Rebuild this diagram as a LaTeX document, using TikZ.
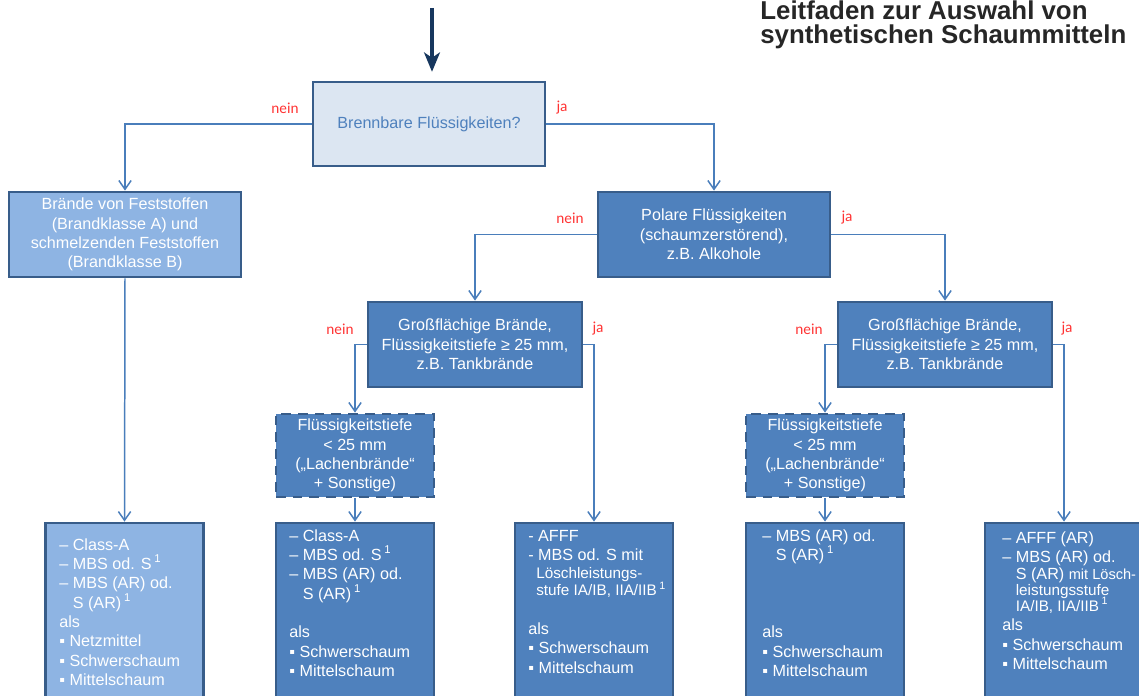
\documentclass[tikz,border=0pt]{standalone}
\usepackage{fontspec}
\setmainfont{Liberation Sans}
\newfontfamily\labelfont{Carlito}
\usetikzlibrary{arrows.meta}

\definecolor{rand}{HTML}{385D8A}
\definecolor{blau}{HTML}{4F81BD}
\definecolor{hellblau}{HTML}{8EB4E3}
\definecolor{frageblau}{HTML}{DCE6F2}
\definecolor{linie}{HTML}{4A7EBB}
\definecolor{dunkel}{HTML}{17375E}
\definecolor{rot}{HTML}{FF3333}
\definecolor{titelgrau}{HTML}{262626}

\newcommand\kleintxt{\fontsize{8.7}{9.9}\selectfont}
\newcommand\einr{\hphantom{– }}
\newcommand\fn{\,\textsuperscript{1}}

\begin{document}
\begin{tikzpicture}[x=0.02cm, y=-0.02cm, font=\fontsize{9.2}{11}\selectfont,
  box/.style={draw=rand, line width=1.6pt, fill=blau, text=white, align=center,
    inner sep=0pt, minimum height=1.7cm},
  lache/.style={box, dash pattern=on 5.5pt off 4pt, minimum width=3.16cm,
    minimum height=1.66cm},
  ergebnis/.style={box, minimum width=3.16cm, minimum height=3.94cm},
  liste/.style={text=white, align=left, anchor=north west, inner sep=0pt},
  pfeil/.style={draw=linie, line width=0.85pt, -{Straight Barb[length=5pt, width=7pt]}},
  einpfeil/.style={draw=dunkel, line width=2.3pt, -{Stealth[length=11pt, width=9pt, inset=3pt]}},
  antwort/.style={text=rot, font=\labelfont\fontsize{8.7}{10}\selectfont},
  titel/.style={text=titelgrau, align=left, inner sep=0pt,
    font=\bfseries\fontsize{14.7}{14}\selectfont}]

  \useasboundingbox (0,0) rectangle (1139,696);

  % Titel (oben angeschnitten)
  \node[titel, anchor=north west] (titel) at (760,0) {Leitfaden zur Auswahl von\\synthetischen Schaummitteln};

  % Einstieg
  \coordinate (start) at (432,8);

  % Fragen
  \node[box, fill=frageblau, text=blau, minimum width=4.64cm, minimum height=1.68cm] (brenn) at (429,124) {Brennbare Flüssigkeiten?};
  \node[box, fill=hellblau, minimum width=4.64cm] (fest) at (125,234.5) {Brände von Feststoffen\\(Brandklasse A) und\\schmelzenden Feststoffen\\(Brandklasse B)};
  \node[box, minimum width=4.64cm] (polar) at (714,234.5) {Polare Flüssigkeiten\\(schaumzerstörend),\\z.B. Alkohole};
  \node[box, minimum width=4.28cm] (gross1) at (475,344.5) {Großflächige Brände,\\Flüssigkeitstiefe ≥ 25 mm,\\z.B. Tankbrände};
  \node[box, minimum width=4.28cm] (gross2) at (945,344.5) {Großflächige Brände,\\Flüssigkeitstiefe ≥ 25 mm,\\z.B. Tankbrände};
  \node[lache] (lache1) at (355,455.5) {Flüssigkeitstiefe\\< 25 mm\\(„Lachenbrände“\\+ Sonstige)};
  \node[lache] (lache2) at (825,455.5) {Flüssigkeitstiefe\\< 25 mm\\(„Lachenbrände“\\+ Sonstige)};

  % Ergebnisse (unten abgeschnitten)
  \node[ergebnis, fill=hellblau] (ra) at (124.5,621.5) {};
  \node[ergebnis] (r1) at (355,621.5) {};
  \node[ergebnis] (r2) at (594,621.5) {};
  \node[ergebnis] (r3) at (825,621.5) {};
  \node[ergebnis] (r4) at (1064,621.5) {};

  \node[liste] (ra-text) at (59,538) {– Class-A\\– MBS od. S\fn\\– MBS (AR) od.\\\einr S (AR)\fn\\als\\▪ Netzmittel\\▪ Schwerschaum\\▪ Mittelschaum};
  \node[liste] (r1-text) at (289,529) {– Class-A\\– MBS od. S\fn\\– MBS (AR) od.\\\einr S (AR)\fn\\~\\als\\▪ Schwerschaum\\▪ Mittelschaum};
  \node[liste] (r2-text) at (528,530) {- AFFF\\- MBS od. S mit\\[-1pt]\hspace*{4.5pt}{\kleintxt Löschleistungs-}\\[-1pt]\hspace*{4.5pt}{\kleintxt stufe IA/IB, IIA/IIB\fn}\\~\\als\\▪ Schwerschaum\\▪ Mittelschaum};
  \node[liste] (r3-text) at (762,529) {– MBS (AR) od.\\\einr S (AR)\fn\\~\\~\\~\\als\\▪ Schwerschaum\\▪ Mittelschaum};
  \node[liste] (r4-text) at (1002,531) {– AFFF (AR)\\– MBS (AR) od.\\[-1pt]\einr S (AR) {\kleintxt\fontsize{8.3}{9.7}\selectfont mit Lösch-}\\[-2pt]\einr{\kleintxt leistungsstufe}\\[-2pt]\einr{\kleintxt IA/IB, IIA/IIB\fn}\\als\\▪ Schwerschaum\\▪ Mittelschaum};

  % Verbindungen
  \draw[einpfeil, shorten >=5pt] (start) -- (start |- brenn.north);
  \draw[pfeil] (brenn.west) -| (fest.north);
  \draw[pfeil] (brenn.east) -| (polar.north);
  \draw[pfeil] (fest.south) -- (ra.north);
  \draw[pfeil] (polar.west) -| (gross1.north);
  \draw[pfeil] (polar.east) -| (gross2.north);
  \draw[pfeil] (gross1.west) -| (lache1.north);
  \draw[pfeil] (gross1.east) -| (r2.north);
  \draw[pfeil] (lache1.south) -- (r1.north);
  \draw[pfeil] (gross2.west) -| (lache2.north);
  \draw[pfeil] (gross2.east) -| (r4.north);
  \draw[pfeil] (lache2.south) -- (r3.north);

  % Antworten
  \node[antwort] (nein1) at (285,108) {nein};
  \node[antwort] (ja1) at (562,108) {ja};
  \node[antwort] (nein2) at (570,218) {nein};
  \node[antwort] (ja2) at (847,218) {ja};
  \node[antwort] (nein3) at (340,329) {nein};
  \node[antwort] (ja3) at (598,329) {ja};
  \node[antwort] (nein4) at (809,329) {nein};
  \node[antwort] (ja4) at (1067,329) {ja};

\end{tikzpicture}
\end{document}
